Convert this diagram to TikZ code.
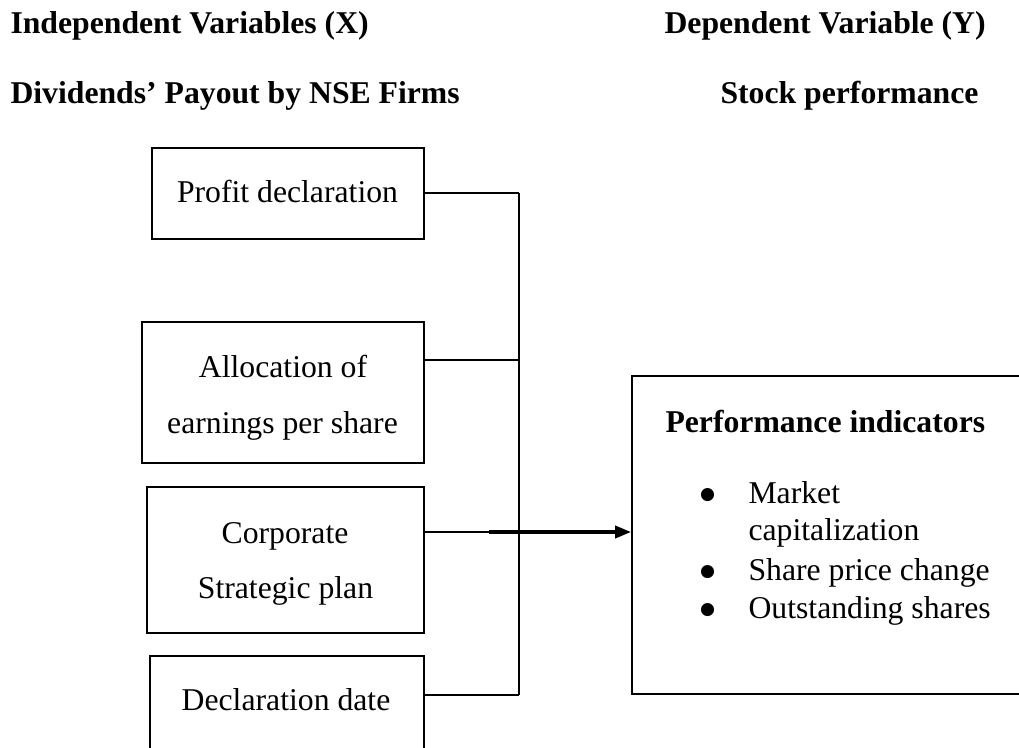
\documentclass[tikz,border=0pt]{standalone}
\usepackage{fontspec}
\setmainfont{Liberation Serif}
\newfontfamily\symfont{DejaVu Sans}
\usetikzlibrary{arrows.meta}
\newcommand{\bulitem}{\makebox[31.04pt][c]{\raisebox{1.3pt}{\symfont\fontsize{6.5}{6.5}\selectfont ●}}}
\begin{document}
\begin{tikzpicture}[x=0.3785pt,y=-0.3785pt,
  box/.style={draw=black,line width=0.75pt,inner sep=0pt},
  txt/.style={inner sep=0pt,font=\fontsize{12}{14.4}\selectfont},
  ttl/.style={inner sep=0pt,font=\fontsize{12}{14.4}\selectfont\bfseries,anchor=base west},
  conn/.style={draw=black,line width=0.75pt},
  arr/.style={draw=black,line width=1.2pt,-{Triangle[length=6pt,width=4.6pt]}}]
\clip (0,0) rectangle (1019,747);
\useasboundingbox (0,0) rectangle (1019,747);
% titles
\node[ttl] (t1) at (10,33) {Independent Variables (X)};
\node[ttl] (t2) at (10,103) {Dividends’ Payout by NSE Firms};
\node[ttl] (t3) at (664,33) {Dependent Variable (Y)};
\node[ttl] (t4) at (720,103) {Stock performance};
% boxes
\node[box,minimum width=272*0.3785pt,minimum height=91*0.3785pt] (pfd) at (288,193.5) {};
\node[box,minimum width=282*0.3785pt,minimum height=141*0.3785pt] (alloc) at (283,392.5) {};
\node[box,minimum width=277*0.3785pt,minimum height=146*0.3785pt] (corp) at (285.5,560) {};
\node[box,minimum width=274*0.3785pt,minimum height=114*0.3785pt] (decl) at (287,713) {};
\node[box,minimum width=418*0.3785pt,minimum height=318*0.3785pt] (perf) at (841,535) {};
% box texts
\node[txt,anchor=base] (pfdt) at (287.5,202) {Profit declaration};
\node[txt,anchor=base] (allt1) at (283,377) {Allocation of};
\node[txt,anchor=base] (allt2) at (282.5,433) {earnings per share};
\node[txt,anchor=base] (cort1) at (285,543) {Corporate};
\node[txt,anchor=base] (cort2) at (285.5,598) {Strategic plan};
\node[txt,anchor=base] (dect) at (286,710) {Declaration date};
\node[ttl] (pit) at (665,432) {Performance indicators};
\node[txt,anchor=base west] (l1a) at (666,503) {\bulitem Market};
\node[txt,anchor=base west] (l1b) at (748,540) {capitalization};
\node[txt,anchor=base west] (l2) at (666,580) {\bulitem Share price change};
\node[txt,anchor=base west] (l3) at (666,618) {\bulitem Outstanding shares};
% connectors
\coordinate (j1) at (519,193);
\coordinate (j2) at (519,360);
\coordinate (j3) at (519,532);
\coordinate (j4) at (519,695);
\coordinate (a0) at (489,532);
\draw[conn] (pfd.east |- j1) -- (j1);
\draw[conn] (alloc.east |- j2) -- (j2);
\draw[conn] (corp.east |- j3) -- (j3);
\draw[conn] (decl.east |- j4) -- (j4);
\draw[conn] (j1) -- (j4);
\draw[arr] (a0) -- (perf.west |- a0);
\end{tikzpicture}
\end{document}
